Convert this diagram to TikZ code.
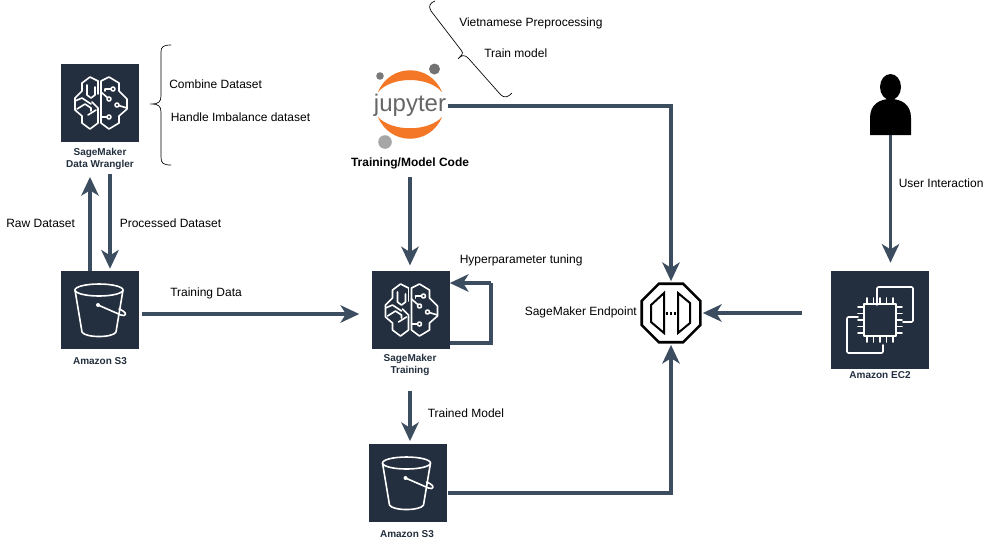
\documentclass[tikz,border=0pt]{standalone}
\usepackage{fontspec}
\setmainfont{Liberation Sans}
\usetikzlibrary{positioning,calc,arrows.meta,shapes.geometric}

\definecolor{awsdark}{HTML}{232F3E}
\definecolor{flowblue}{HTML}{3C4D60}
\definecolor{jupyorange}{HTML}{F37726}

\tikzset{
	awsbox/.style={draw=none,fill=awsdark,minimum size=58.5pt,inner sep=0pt},
	iconlabel/.style={font=\fontsize{7.5}{9}\selectfont\bfseries,text=awsdark,align=center,inner sep=0pt},
	plaintext/.style={font=\fontsize{9}{11}\selectfont,inner sep=0pt,anchor=west},
	flow/.style={draw=flowblue,line width=2.8pt,-{Stealth[length=14pt,width=13pt,inset=4pt]}},
	flowplain/.style={draw=flowblue,line width=2.8pt},
	icon/.style={draw=white,line width=1.2pt,line join=round,line cap=round},
	pics/brain/.style={code={
		\draw[icon] (-2,-22) -- (-10,-26) -- (-18,-20) -- (-18,-12) -- (-25,-5) -- (-25,7) -- (-18,13) -- (-18,20) -- (-10,26) -- (-2,20) -- (-2,5) -- (-8,-1);
		\draw[icon] (-2,-22) -- (-2,-9);
		\draw[icon] (-13,-18) -- (-13,-8) -- (-9,-5) -- (-5,-8) -- (-5,-16);
		\draw[icon] (-25,-2) -- (-18,-5) -- (-9,1);
		\draw[icon] (-23,6) -- (-15,1) -- (-9,5) -- (-9,8);
		\draw[icon] (-12,12) -- (-4,7);
		\draw[icon] (1,-22) -- (9,-26) -- (19,-20) -- (19,-12) -- (27,-4) -- (27,6) -- (19,13) -- (19,20) -- (9,26) -- (1,20) -- cycle;
		\draw[icon] (1,-11) -- (9,-4);
		\draw[icon] (5,-14) -- (13,-14) (5,-14) -- (5,-12);
		\draw[icon] (1,14) -- (9,14);
		\draw[icon] (17,2) -- (27,5);
		\foreach \cx/\cy in {13/-14,9/-4,17/2,9/14}{
			\draw[icon,fill=awsdark] (\cx,\cy) circle (2);
		}
	}},
	pics/bucket/.style={code={
		\draw[icon] (-1,-20) ellipse (24 and 6);
		\draw[icon] (-25,-20) -- (-18,22) .. controls (-15,28) and (13,28) .. (16,22) -- (23,-20);
		\draw[icon] (-2,-5) -- (21,5) .. controls (26,7) and (27,3) .. (23,1) .. controls (21,0) and (20,-1) .. (19,-1);
		\fill[white] (-2,-5) circle (2);
	}},
	pics/chip/.style={code={
		\draw[icon,rounded corners=1pt] (-3,-15) -- (-3,-33) -- (33,-33) -- (33,2) -- (23,2);
		\draw[icon,rounded corners=1pt] (-22,-3) -- (-33,-3) -- (-33,33) -- (3,33) -- (3,25);
		\draw[icon] (-16,-16) rectangle (16,16);
		\foreach \k in {-13,-6.5,0,6.5,13}{
			\draw[icon] (\k,-16) -- (\k,-22);
			\draw[icon] (\k,16) -- (\k,22);
			\draw[icon] (-16,\k) -- (-22,\k);
			\draw[icon] (16,\k) -- (22,\k);
		}
	}}
}

\begin{document}
\begin{tikzpicture}[x=0.75pt,y=-0.75pt]
	\useasboundingbox (0,0) rectangle (991,544);

	% AWS boxes
	\node[awsbox] (wrangler) at (100,103) {};
	\node[awsbox] (bucketraw) at (100,310) {};
	\node[awsbox] (training) at (410.5,310) {};
	\node[awsbox] (bucketmodel) at (407.5,483) {};
	\node[awsbox,minimum size=73.5pt] (ec) at (880,320) {};
	\pic at (wrangler) {brain};
	\pic at (training) {brain};
	\pic at (bucketraw) {bucket};
	\pic at (bucketmodel) {bucket};
	\pic at (ec) {chip};

	% labels under the boxes
	\node[iconlabel] (wranglerlabel) at (100,158.5) {SageMaker\\Data Wrangler};
	\node[iconlabel] (bucketrawlabel) at (100,361) {Amazon S3};
	\node[iconlabel] (traininglabel) at (410,365) {SageMaker\\Training};
	\node[iconlabel] (bucketmodellabel) at (407,534) {Amazon S3};
	\node[iconlabel] (eclabel) at (880,375) {Amazon EC2};

	% jupyter logo
	\coordinate (logo) at (410,105);
	\fill[jupyorange] (378,92) .. controls (390,63) and (430,63) .. (442,92) .. controls (428,76) and (392,76) .. (378,92) -- cycle;
	\fill[jupyorange] (378,117) .. controls (390,146) and (430,146) .. (442,117) .. controls (428,132) and (392,132) .. (378,117) -- cycle;
	\fill[gray!90!black] (434.5,69) circle (5.5);
	\fill[gray!95!black] (380,76) circle (3.8);
	\fill[gray!70] (385,142) circle (6.8);
	\node[font=\fontsize{18}{20}\selectfont,text=black!60,inner sep=0pt] (jupyter) at (logo) {jupyter};
	\node[font=\fontsize{9}{11}\selectfont\bfseries,inner sep=0pt] (modelcode) at (410,163.5) {Training/Model Code};

	% person
	\fill[black] (890.5,87) ellipse (10.5 and 13);
	\fill[black] (870,135) -- (870,118) .. controls (870,104) and (880,99) .. (890.5,99) .. controls (901,99) and (911,104) .. (911,118) -- (911,135) -- cycle;
	\coordinate (person) at (890.5,135);

	% endpoint
	\node[draw=black,line width=1.9pt,regular polygon,regular polygon sides=8,minimum size=47.5pt,inner sep=0pt,fill=white] (endpoint) at (671,313) {};
	\draw[black,line width=1.5pt,line join=miter] (664,293) -- (651,305) -- (651,322) -- (664,333) -- cycle;
	\draw[black,line width=1.5pt,line join=miter] (678,293) -- (690,303) -- (690,323) -- (678,333) -- cycle;
	\foreach \k in {-4,0,4}{
		\fill[black] ({671+\k-1.2},312) rectangle ({671+\k+1.2},314.5);
	}

	% connectors
	\coordinate (codetop) at (671,106);
	\coordinate (modelcorner) at (671,493);
	\coordinate (loopin) at (491,283);
	\coordinate (loopout) at (491,343);
	\coordinate (ecin) at (802,313);
	\draw[flow,shorten >=2pt] ([xshift=-7.5pt]bucketraw.north) -- ([xshift=-7.5pt,yshift=-24pt]wrangler.south);
	\draw[flow,shorten >=1.5pt] ([xshift=7.5pt,yshift=-24pt]wrangler.south) -- ([xshift=7.5pt]bucketraw.north);
	\draw[flow] ([yshift=-3pt,xshift=2pt]bucketraw.east) -- ([yshift=-3pt,xshift=-9pt]training.west);
	\draw[flow,shorten >=4pt] ([yshift=-6pt]modelcode.south) -- (modelcode.south |- training.north);
	\draw[flow,shorten >=1pt] ([xshift=1pt]jupyter.east |- codetop) -- (codetop) -- (endpoint.north);
	\draw[flowplain] (training.east |- loopout) -- (loopout) -- (loopin);
	\draw[flow] (loopin) -- (training.east |- loopin);
	\draw[flow,shorten >=2pt] ([yshift=-11pt]traininglabel.south) -- (traininglabel.south |- bucketmodel.north);
	\draw[flow,shorten >=1pt] ([xshift=1pt]bucketmodel.east |- modelcorner) -- (modelcorner) -- (endpoint.south);
	\draw[flow,shorten >=1pt] (ecin) -- (endpoint.east);
	\draw[flow,shorten >=6pt] (person) -- (person |- ec.north);

	% text
	\node[plaintext] (rawtext) at (6,223) {Raw Dataset};
	\node[plaintext] (processedtext) at (119.5,223) {Processed Dataset};
	\node[plaintext] (combinetext) at (169,84) {Combine Dataset};
	\node[plaintext] (handletext) at (170.5,117) {Handle Imbalance dataset};
	\node[plaintext] (vietnametext) at (459,23) {Vietnamese Preprocessing};
	\node[plaintext] (traintext) at (484,53) {Train model};
	\node[plaintext] (datatext) at (170,293) {Training Data};
	\node[plaintext] (tuningtext) at (459.5,260) {Hyperparameter tuning};
	\node[plaintext] (endpointtext) at (524.5,312) {SageMaker Endpoint};
	\node[plaintext] (trainedtext) at (427.5,413) {Trained Model};
	\node[plaintext] (usertext) at (898.5,183) {User Interaction};

	% braces
	\draw[black,line width=0.5pt] (171,45) .. controls (163,45) and (161,47) .. (161,52) -- (161,96) .. controls (161,102) and (158,104) .. (152,104) .. controls (158,104) and (161,106) .. (161,112) -- (161,157) .. controls (161,163) and (163,165) .. (171,165);
	\draw[black,line width=0.5pt] (435,1) .. controls (430,3) and (428,6) .. (431,11) -- (461,50) .. controls (465,54) and (460,56) .. (458,59) .. controls (461,55) and (465,54) .. (469,59) -- (500,94) .. controls (505,99) and (508,97) .. (512,93);
\end{tikzpicture}
\end{document}
